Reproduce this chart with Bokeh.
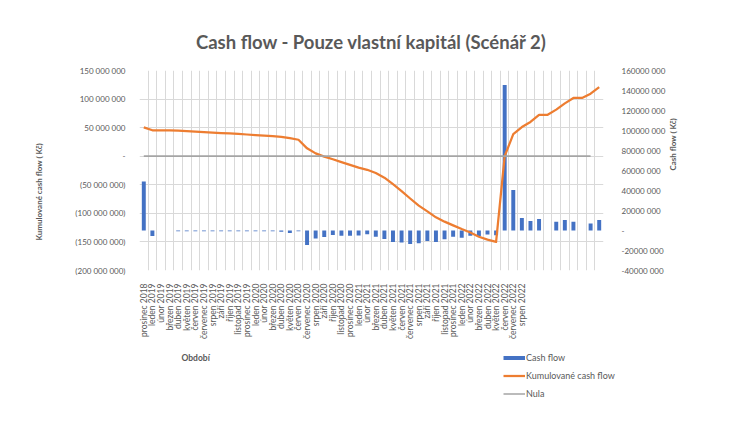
from math import pi
from bokeh.plotting import figure
from bokeh.layouts import column, row
from bokeh.models import (Range1d, LinearAxis, FixedTicker, Legend, LegendItem,
                          Title, Label, ColumnDataSource, Grid)
from bokeh.embed import file_html
from bokeh.resources import INLINE

# ---------------- data (values in millions of Kč) ----------------
months = [
    "prosinec 2018",
    "leden 2019", "únor 2019", "březen 2019", "duben 2019", "květen 2019", "červen 2019",
    "červenec 2019", "srpen 2019", "září 2019", "říjen 2019", "listopad 2019", "prosinec 2019",
    "leden 2020", "únor 2020", "březen 2020", "duben 2020", "květen 2020", "červen 2020",
    "červenec 2020", "srpen 2020", "září 2020", "říjen 2020", "listopad 2020", "prosinec 2020",
    "leden 2021", "únor 2021", "březen 2021", "duben 2021", "květen 2021", "červen 2021",
    "červenec 2021", "srpen 2021", "září 2021", "říjen 2021", "listopad 2021", "prosinec 2021",
    "leden 2022", "únor 2022", "březen 2022", "duben 2022", "květen 2022", "červen 2022",
    "červenec 2022", "srpen 2022",
    "", "", "", "", "", "", "", "", "",
]

cash_flow_mil = [
    49.0, -5.5, 0.0, 0.0, -0.8, -0.8, -0.8, -0.8, -0.8, -0.8,
    -0.8, -0.8, -0.8, -0.8, -0.8, -0.8, -1.2, -2.5, -0.7, -14.5,
    -8.0, -6.5, -4.5, -5.3, -5.3, -5.0, -3.7, -6.2, -8.5, -11.5,
    -12.0, -13.5, -12.8, -10.6, -11.4, -8.8, -6.2, -7.2, -5.2, -5.5,
    -4.0, -4.8, 145.5, 40.5, 12.6, 9.4, 11.4, 0.0, 8.7, 10.4,
    8.7, 0.0, 7.1, 10.4,
]

cumulative_mil = [
    50.5, 45.4, 45.4, 45.4, 44.6, 43.8, 43.0, 42.2, 41.4, 40.6,
    39.8, 38.9, 38.0, 37.1, 36.2, 35.3, 34.0, 31.5, 28.8, 13.8,
    5.0, -0.7, -5.3, -10.4, -15.2, -20.0, -23.8, -29.5, -37.5, -49.0,
    -61.0, -74.0, -86.5, -96.5, -107.0, -114.5, -121.0, -127.5, -133.5, -141.0,
    -146.0, -150.0, 0.0, 38.5, 51.0, 60.0, 72.5, 72.5, 81.5, 92.5,
    102.0, 102.0, 109.5, 121.0,
]

nula_mil = [
    0, 0, 0, 0, 0, 0, 0, 0, 0, 0, 0, 0, 0, 0, 0, 0, 0, 0, 0, 0,
    0, 0, 0, 0, 0, 0, 0, 0, 0, 0, 0, 0, 0, 0, 0, 0, 0, 0, 0, 0,
    0, 0, 0, 0, 0, 0, 0, 0, 0, 0, 0, 0, 0,
]

left_ticks = [-200000000, -150000000, -100000000, -50000000, 0,
              50000000, 100000000, 150000000]
left_tick_labels = ["(200 000 000)", "(150 000 000)", "(100 000 000)", "(50 000 000)", "-",
                    "50 000 000", "100 000 000", "150 000 000"]

right_ticks = [-40000000, -20000000, 0, 20000000, 40000000, 60000000,
               80000000, 100000000, 120000000, 140000000, 160000000]
right_tick_labels = ["-40000 000", "-20000 000", "-", "20000 000", "40000 000", "60000 000",
                     "80000 000", "100000 000", "120000 000", "140000 000", "160000 000"]

title_text = "Cash flow - Pouze vlastní kapitál (Scénář 2)"
left_title = "Kumulované cash flow ( Kč)"
right_title = "Cash flow ( Kč)"
x_title = "Období"
series_names = ["Cash flow", "Kumulované cash flow", "Nula"]

# ---------------- build ----------------
FONT = "Lato"
TXT = "#595959"
GRID = "#d9d9d9"
BLUE, ORANGE, GREY = "#4472C4", "#ED7D31", "#A5A5A5"

n = len(cash_flow_mil)
idx = list(range(n))
src = ColumnDataSource(dict(
    x=idx,
    cf=[v * 1e6 for v in cash_flow_mil],
    cum=[v * 1e6 for v in cumulative_mil],
))
nula_src = ColumnDataSource(dict(x=idx[:len(nula_mil)], y=[v * 1e6 for v in nula_mil]))

W, H_MAIN, H_LEG = 756, 342, 82
FRAME_L, FRAME_R = 139, 603

p = figure(width=W, height=H_MAIN, output_backend="svg", toolbar_location=None,
           x_range=Range1d(-0.5, n - 0.5),
           y_range=Range1d(left_ticks[0], left_ticks[-1]),
           min_border_left=FRAME_L, min_border_right=W - FRAME_R,
           min_border_top=70, min_border_bottom=67,
           x_axis_type=None, y_axis_type=None)
p.extra_y_ranges = {"cf": Range1d(right_ticks[0], right_ticks[-1])}
p.outline_line_color = None
p.background_fill_color = "white"
p.border_fill_color = "white"

# title
p.title.text = title_text
p.title.align = "center"
p.title.text_font = FONT
p.title.text_font_size = "18.5px"
p.title.text_font_style = "bold"
p.title.text_color = TXT
p.title.standoff = 36


def style_axis(ax, fs="8px"):
    ax.axis_line_color = None
    ax.major_tick_line_color = None
    ax.minor_tick_line_color = None
    ax.major_label_text_font = FONT
    ax.major_label_text_font_size = fs
    ax.major_label_text_color = TXT
    ax.axis_label_text_font = FONT
    ax.axis_label_text_font_size = "8px"
    ax.axis_label_text_font_style = "bold"
    ax.axis_label_text_color = TXT


# left axis + title
left_ax = LinearAxis(ticker=FixedTicker(ticks=left_ticks),
                     major_label_overrides=dict(zip(left_ticks, left_tick_labels)))
style_axis(left_ax)
left_ax.major_label_standoff = 8
p.add_layout(left_ax, "left")
p.add_layout(Title(text=left_title, align="left", offset=30, standoff=58,
                   text_font=FONT, text_font_size="8px", text_font_style="bold",
                   text_color=TXT), "left")

# right axis
right_ax = LinearAxis(y_range_name="cf", ticker=FixedTicker(ticks=right_ticks),
                      major_label_overrides=dict(zip(right_ticks, right_tick_labels)),
                      axis_label=right_title)
style_axis(right_ax)
right_ax.major_label_standoff = 12
right_ax.axis_label_standoff = 5
try:
    right_ax.axis_label_orientation = pi / 2
except Exception:
    pass
p.add_layout(right_ax, "right")

# bottom axis (categories)
lab_ticks = [i for i in idx if months[i] != ""]
bottom_ax = LinearAxis(ticker=FixedTicker(ticks=lab_ticks),
                       major_label_overrides={i: months[i] for i in lab_ticks})
style_axis(bottom_ax, "8.5px")
bottom_ax.major_label_orientation = pi / 2
bottom_ax.major_label_standoff = 7
p.add_layout(bottom_ax, "below")

# grids
vgrid = Grid(dimension=0, ticker=FixedTicker(ticks=[i - 0.5 for i in range(n + 1)]),
             grid_line_color=GRID, grid_line_width=1)
hgrid = Grid(dimension=1, ticker=FixedTicker(ticks=left_ticks),
             grid_line_color=GRID, grid_line_width=1)
p.add_layout(vgrid)
p.add_layout(hgrid)

# series
bars = p.vbar(x="x", top="cf", bottom=0, width=0.46, y_range_name="cf",
              fill_color=BLUE, line_color=None, source=src)
cum_line = p.line(x="x", y="cum", line_color=ORANGE, line_width=2.25,
                  line_join="round", source=src)
nula_line = p.line(x="x", y="y", line_color=GREY, line_width=1.75, source=nula_src)

# ---------------- lower strip: x-axis title and legend ----------------
q = figure(width=W, height=H_LEG, output_backend="svg", toolbar_location=None,
           x_range=Range1d(0, 1), y_range=Range1d(0, 1),
           min_border_left=FRAME_L, min_border_right=0,
           min_border_top=0, min_border_bottom=0,
           x_axis_type=None, y_axis_type=None)
q.outline_line_color = None
q.background_fill_color = "white"
q.border_fill_color = "white"

q.add_layout(Label(x=181 - FRAME_L, y=67, x_units="screen", y_units="screen",
                   text=x_title, text_font=FONT, text_font_size="8.5px",
                   text_font_style="bold", text_color=TXT,
                   text_align="left", text_baseline="middle"))

# legend keys (styled like the series; their glyphs sit outside the visible range)
key_src = ColumnDataSource(dict(x=[-5, -4], y=[-5, -5]))
lg_bar = q.line(x="x", y="y", line_color=BLUE, line_width=4, source=key_src)
lg_cum = q.line(x="x", y="y", line_color=ORANGE, line_width=2.25, source=key_src)
lg_nula = q.line(x="x", y="y", line_color=GREY, line_width=1.5, source=key_src)

legend = Legend(items=[
    LegendItem(label=series_names[0], renderers=[lg_bar]),
    LegendItem(label=series_names[1], renderers=[lg_cum]),
    LegendItem(label=series_names[2], renderers=[lg_nula]),
], location=(503 - FRAME_L, 25), orientation="vertical",
   glyph_width=22, glyph_height=11, label_height=11, spacing=7, padding=0, margin=0,
   label_standoff=1, border_line_color=None, background_fill_alpha=0,
   label_text_font=FONT, label_text_font_size="9px", label_text_color=TXT)
q.add_layout(legend)

layout = column(p, row(q), spacing=0)
open("out.html", "w").write(file_html(layout, INLINE))
